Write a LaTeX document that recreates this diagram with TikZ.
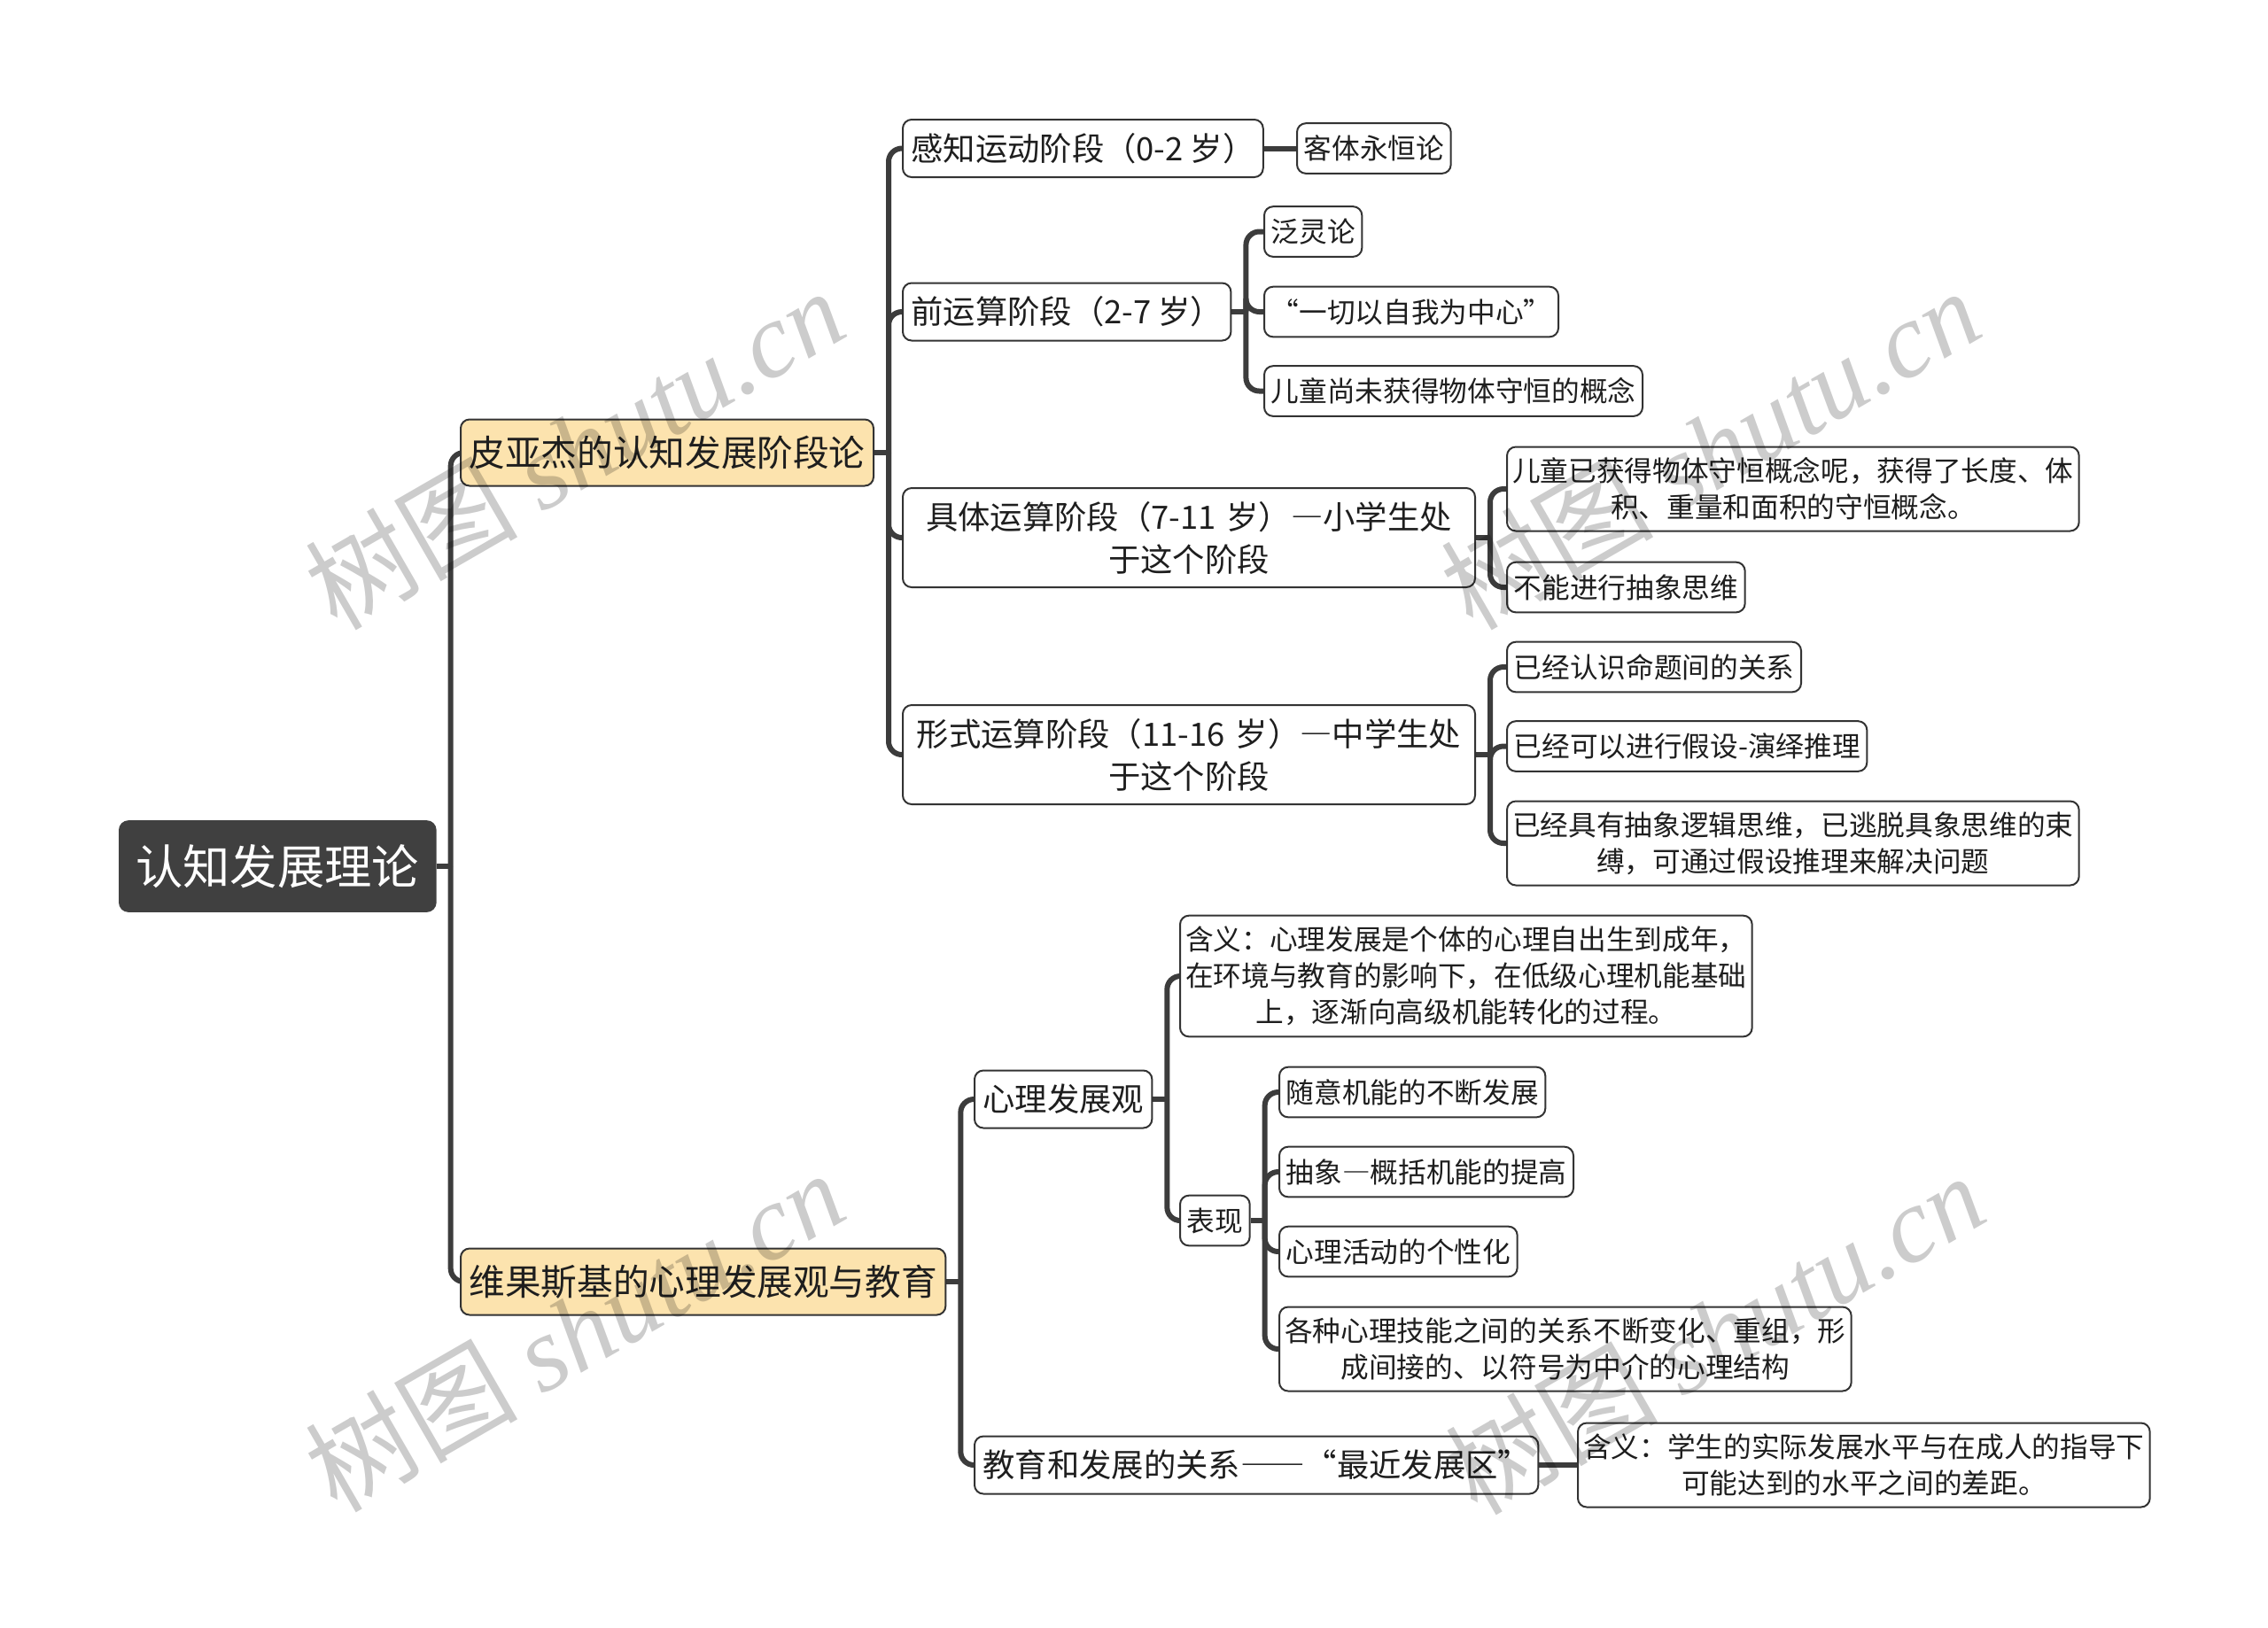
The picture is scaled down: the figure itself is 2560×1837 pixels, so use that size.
\documentclass[tikz,border=0pt]{standalone}
\usepackage{fontspec}
\setmainfont{Noto Sans CJK SC}
\newfontfamily\fwfont[RawFeature=+fwid]{Noto Sans CJK SC}
\newfontfamily\wmlatin{Liberation Serif}
\usetikzlibrary{calc,backgrounds}
\definecolor{conncol}{HTML}{3C3C3C}
\definecolor{bordercol}{HTML}{333333}
\definecolor{rootfill}{HTML}{404040}
\definecolor{mainfill}{HTML}{FCE3AE}
\definecolor{txtcol}{HTML}{1E1E1E}
\newcommand{\fw}[1]{{\fwfont #1}}
\tikzset{
  box/.style={draw=bordercol, line width=0.6pt, rounded corners=3pt, fill=white, text=txtcol, anchor=west, inner ysep=0pt},
  rootbox/.style={box, fill=rootfill, draw=rootfill, text=white, font=\fontsize{16}{18}\selectfont, inner xsep=5.5pt, minimum height=30.5pt},
  mainbox/.style={box, fill=mainfill, font=\fontsize{12.2}{14}\selectfont, inner xsep=2.8pt, minimum height=22.5pt},
  subbox/.style={box, font=\fontsize{10.9}{14.4}\selectfont, inner xsep=2.8pt, minimum height=19.5pt},
  subwide/.style={subbox, text width=188.2pt, align=center, minimum height=33.6pt},
  leafbox/.style={box, font=\fontsize{9.5}{12.3}\selectfont, inner xsep=2.3pt, minimum height=17pt},
  leafwide/.style={leafbox, inner xsep=1.6pt, text width=190.5pt, align=center, minimum height=28.5pt},
  conn/.style={draw=conncol, line width=1.8pt},
  elbow/.style={conn, rounded corners=4.5pt},
  wm/.style={text=black, opacity=0.2, rotate=30, font=\fontsize{36}{36}\selectfont}
}
\begin{document}
\begin{tikzpicture}[x=0.3pt,y=-0.3pt]
\useasboundingbox (0,0) rectangle (2560,1837);

% root and main topics
\node[rootbox] (root) at (134,978) {认知发展理论};
\node[mainbox] (pyj) at (519,511) {皮亚杰的认知发展阶段论};
\node[mainbox] (wgs) at (519,1447) {维果斯基的心理发展观与教育};

% Piaget stages
\node[subbox] (gz) at (1018,167.5) {感知运动阶段（0-2 岁）};
\node[subbox] (qy) at (1018,352) {前运算阶段（2-7 岁）};
\node[subwide] (jt) at (1018,607) {具体运算阶段（7-11 岁）\fw{—}小学生处\\于这个阶段};
\node[subwide] (xs) at (1018,852) {形式运算阶段（11-16 岁）\fw{—}中学生处\\于这个阶段};

\node[leafbox] (kt) at (1463,167.5) {客体永恒论};
\node[leafbox] (fl) at (1426,261.5) {泛灵论};
\node[leafbox] (yq) at (1426,352) {“一切以自我为中心”};
\node[leafbox] (et) at (1426,441.5) {儿童尚未获得物体守恒的概念};

\node[leafwide] (eg) at (1700,552) {儿童已获得物体守恒概念呢，获得了长度、体\\积、重量和面积的守恒概念。};
\node[leafbox] (bn) at (1700,663) {不能进行抽象思维};

\node[leafbox] (yr) at (1700,753) {已经认识命题间的关系};
\node[leafbox] (yk) at (1700,842.5) {已经可以进行假设-演绎推理};
\node[leafwide] (yj) at (1700,952) {已经具有抽象逻辑思维，已逃脱具象思维的束\\缚，可通过假设推理来解决问题};

% Vygotsky
\node[subbox] (xl) at (1099,1241) {心理发展观};
\node[subbox] (jy) at (1099,1654) {教育和发展的关系\fw{——}“最近发展区”};

\node[leafwide, minimum height=41pt] (hy1) at (1331,1102) {含义：心理发展是个体的心理自出生到成年，\\在环境与教育的影响下，在低级心理机能基础\\上，逐渐向高级机能转化的过程。};
\node[leafbox] (bx) at (1331,1378) {表现};

\node[leafbox] (sy) at (1443,1233) {随意机能的不断发展};
\node[leafbox] (cx) at (1443,1323) {抽象\fw{—}概括机能的提高};
\node[leafbox] (xh) at (1443,1413) {心理活动的个性化};
\node[leafwide] (gz2) at (1443,1523) {各种心理技能之间的关系不断变化、重组，形\\成间接的、以符号为中介的心理结构};

\node[leafwide] (hy2) at (1780,1654) {含义：学生的实际发展水平与在成人的指导下\\可能达到的水平之间的差距。};

% connectors
\begin{scope}[on background layer]
  \coordinate (rootT) at ($(root.east)+(16,0)$);
  \draw[conn] (root.east) -- (rootT);
  \draw[elbow] (rootT) |- (pyj.west);
  \draw[elbow] (rootT) |- (wgs.west);

  \coordinate (pyjT) at ($(pyj.east)+(16,0)$);
  \draw[conn] (pyj.east) -- (pyjT);
  \foreach \c in {gz,qy,jt,xs} \draw[elbow] (pyjT) |- (\c.west);

  \draw[conn] (gz.east) -- (kt.west);

  \coordinate (qyT) at ($(qy.east)+(16,0)$);
  \draw[conn] (qy.east) -- (qyT);
  \foreach \c in {fl,yq,et} \draw[elbow] (qyT) |- (\c.west);

  \coordinate (jtT) at ($(jt.east)+(16,0)$);
  \draw[conn] (jt.east) -- (jtT);
  \foreach \c in {eg,bn} \draw[elbow] (jtT) |- (\c.west);

  \coordinate (xsT) at ($(xs.east)+(16,0)$);
  \draw[conn] (xs.east) -- (xsT);
  \foreach \c in {yr,yk,yj} \draw[elbow] (xsT) |- (\c.west);

  \coordinate (wgsT) at ($(wgs.east)+(16,0)$);
  \draw[conn] (wgs.east) -- (wgsT);
  \foreach \c in {xl,jy} \draw[elbow] (wgsT) |- (\c.west);

  \coordinate (xlT) at ($(xl.east)+(16,0)$);
  \draw[conn] (xl.east) -- (xlT);
  \foreach \c in {hy1,bx} \draw[elbow] (xlT) |- (\c.west);

  \coordinate (bxT) at ($(bx.east)+(16,0)$);
  \draw[conn] (bx.east) -- (bxT);
  \foreach \c in {sy,cx,xh,gz2} \draw[elbow] (bxT) |- (\c.west);

  \draw[conn] (jy.east) -- (hy2.west);
\end{scope}

% watermarks
\node[wm] (wm1) at (648,506) {树图 {\wmlatin\itshape shutu.cn}};
\node[wm] (wm2) at (1930,506) {树图 {\wmlatin\itshape shutu.cn}};
\node[wm] (wm3) at (648,1502) {树图 {\wmlatin\itshape shutu.cn}};
\node[wm] (wm4) at (1935,1505) {树图 {\wmlatin\itshape shutu.cn}};
\end{tikzpicture}
\end{document}
